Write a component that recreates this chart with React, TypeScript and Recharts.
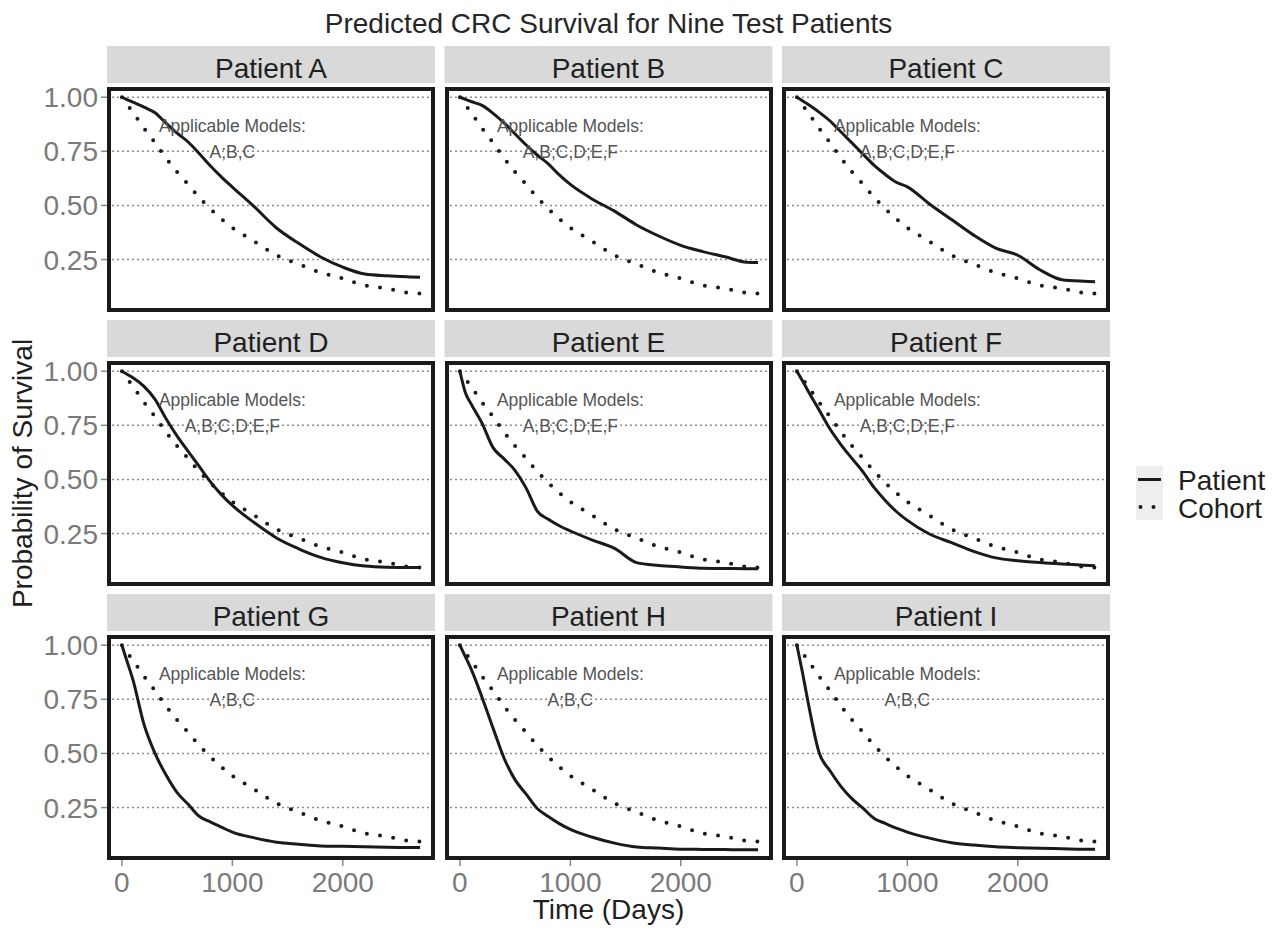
import { LineChart, Line, XAxis, YAxis, ReferenceLine, ReferenceDot } from "recharts"

const FONT = '"Liberation Sans", Arial, Helvetica, sans-serif'

// time grid (days) shared by every curve
const days = [0, 50, 100, 200, 300, 400, 500, 600, 700, 800, 900, 1000, 1200, 1400, 1600, 1800, 2000, 2200, 2400, 2600, 2700]

// cohort survival, same in every panel
const cohort = [1.0, 0.965, 0.93, 0.857, 0.79, 0.718, 0.654, 0.597, 0.537, 0.485, 0.438, 0.397, 0.334, 0.27, 0.229, 0.19, 0.163, 0.131, 0.117, 0.096, 0.093]

const patientA = [1.0, 0.988, 0.977, 0.954, 0.928, 0.88, 0.834, 0.793, 0.74, 0.683, 0.632, 0.585, 0.493, 0.396, 0.325, 0.262, 0.215, 0.183, 0.175, 0.17, 0.168]
const patientB = [1.0, 0.99, 0.98, 0.962, 0.925, 0.881, 0.83, 0.779, 0.733, 0.692, 0.641, 0.597, 0.529, 0.474, 0.41, 0.359, 0.316, 0.287, 0.263, 0.238, 0.237]
const patientC = [1.0, 0.984, 0.967, 0.931, 0.89, 0.839, 0.788, 0.736, 0.685, 0.643, 0.607, 0.586, 0.507, 0.435, 0.363, 0.303, 0.27, 0.203, 0.157, 0.15, 0.148]
const patientD = [1.0, 0.985, 0.97, 0.93, 0.87, 0.78, 0.70, 0.63, 0.56, 0.49, 0.43, 0.38, 0.30, 0.23, 0.18, 0.14, 0.115, 0.10, 0.095, 0.094, 0.094]
const patientE = [1.0, 0.90, 0.85, 0.76, 0.647, 0.595, 0.541, 0.46, 0.354, 0.316, 0.286, 0.262, 0.22, 0.182, 0.116, 0.103, 0.096, 0.09, 0.089, 0.088, 0.088]
const patientF = [1.0, 0.956, 0.91, 0.822, 0.733, 0.66, 0.596, 0.534, 0.462, 0.403, 0.352, 0.311, 0.248, 0.208, 0.168, 0.138, 0.125, 0.116, 0.11, 0.104, 0.101]
const patientG = [1.0, 0.92, 0.84, 0.634, 0.50, 0.40, 0.319, 0.265, 0.21, 0.184, 0.16, 0.137, 0.11, 0.09, 0.081, 0.073, 0.071, 0.069, 0.067, 0.066, 0.066]
const patientH = [1.0, 0.946, 0.892, 0.76, 0.617, 0.478, 0.378, 0.312, 0.246, 0.209, 0.176, 0.149, 0.113, 0.086, 0.068, 0.063, 0.058, 0.057, 0.056, 0.055, 0.055]
const patientI = [1.0, 0.875, 0.74, 0.505, 0.42, 0.347, 0.29, 0.246, 0.2, 0.177, 0.155, 0.137, 0.109, 0.088, 0.077, 0.069, 0.065, 0.062, 0.06, 0.058, 0.058]

const panelNames = ["Patient A", "Patient B", "Patient C", "Patient D", "Patient E", "Patient F", "Patient G", "Patient H", "Patient I"]
const panelSeries = [patientA, patientB, patientC, patientD, patientE, patientF, patientG, patientH, patientI]
const panelModels = ["A;B,C", "A,B;C,D;E,F", "A,B;C,D;E,F", "A,B;C,D;E,F", "A,B;C,D;E,F", "A,B;C,D;E,F", "A;B,C", "A;B,C", "A;B,C"]

const yTicks = [0.25, 0.5, 0.75, 1.0]
const xTicks = [0, 1000, 2000]
const legendNames = ["Patient", "Cohort"]

const title = "Predicted CRC Survival for Nine Test Patients"
const xTitle = "Time (Days)"
const yTitle = "Probability of Survival"
const noteTitle = "Applicable Models:"

// layout
const PW = 328
const PH = 225
const colLeft = [107, 444.5, 782]
const rowTop = [87, 361, 635]
const YW = 80
const XH = 40
const xDomain = [-135, 2835]
const yDomain = [0.008, 1.047]

function Note(props: any) {
 const vb = props.viewBox || { x: 0, y: 0, width: 0, height: 0 }
 const cx = vb.x + (vb.width || 0) / 2
 const cy = vb.y + (vb.height || 0) / 2
 return (
  <text textAnchor="middle" fontSize={17.5} fill="#555" fontFamily={FONT}>
   <tspan x={cx} y={cy - 8.5}>{noteTitle}</tspan>
   <tspan x={cx} y={cy + 17.5}>{props.models}</tspan>
  </text>
 )
}

function Panel({ idx }: { idx: number }) {
 const col = idx % 3
 const row = Math.floor(idx / 3)
 const yw = col === 0 ? YW : 0
 const xh = row === 2 ? XH : 0
 const series = panelSeries[idx]
 const rows = days.map((t, i) => ({ t, patient: series[i], cohort: cohort[i] }))
 const tickStyle = { fontSize: 28, fill: "#7a7a7a", fontFamily: FONT }

 return (
  <div style={{ position: "absolute", left: colLeft[col] - yw, top: rowTop[row], width: PW + yw, height: PH + xh }}>
   <LineChart width={PW + yw} height={PH + xh} data={rows} margin={{ top: 0, right: 0, bottom: 0, left: 0 }}>
    <XAxis
     dataKey="t"
     type="number"
     domain={xDomain}
     ticks={xTicks}
     allowDataOverflow
     hide={row !== 2}
     height={XH}
     axisLine={false}
     tickLine={{ stroke: "#8a8a8a", strokeWidth: 1.5 }}
     tickSize={6}
     tickMargin={6}
     tick={tickStyle}
     interval={0}
    />
    <YAxis
     type="number"
     domain={yDomain}
     ticks={yTicks}
     allowDataOverflow
     hide={col !== 0}
     width={YW}
     axisLine={false}
     tickLine={{ stroke: "#8a8a8a", strokeWidth: 1.5 }}
     tickSize={6}
     tickMargin={3}
     tick={tickStyle}
     tickFormatter={(v: number) => v.toFixed(2)}
     interval={0}
    />
    {yTicks.map(v => (
     <ReferenceLine key={v} y={v} stroke="#8c8c8c" strokeWidth={1.5} strokeDasharray="2 3" />
    ))}
    <Line
     dataKey="cohort"
     type="monotone"
     stroke="#1a1a1a"
     strokeWidth={4}
     strokeDasharray="0 13.3"
     strokeLinecap="round"
     dot={false}
     activeDot={false}
     isAnimationActive={false}
    />
    <Line
     dataKey="patient"
     type="monotone"
     stroke="#1a1a1a"
     strokeWidth={3}
     dot={false}
     activeDot={false}
     isAnimationActive={false}
    />
    <ReferenceDot x={1000} y={0.8} r={1} fill="none" stroke="none" label={<Note models={panelModels[idx]} />} />
   </LineChart>
   <div
    style={{
     position: "absolute",
     left: yw,
     top: 0,
     width: PW,
     height: PH,
     border: "4px solid #1a1a1a",
     boxSizing: "border-box",
     pointerEvents: "none"
    }}
   />
  </div>
 )
}

export default function App() {
 const midX = (colLeft[0] + colLeft[2] + PW) / 2
 const midY = (rowTop[0] + rowTop[2] + PH) / 2

 return (
  <div style={{ position: "absolute", left: 0, top: 0, width: 1277, height: 928, background: "#fff", fontFamily: FONT }}>
   <svg width={1277} height={928} style={{ position: "absolute", left: 0, top: 0 }} fontFamily={FONT}>
    <text x={midX} y={33} textAnchor="middle" fontSize={28} fill="#262626">{title}</text>

    {panelNames.map((name, i) => {
     const col = i % 3
     const row = Math.floor(i / 3)
     return (
      <g key={name}>
       <rect x={colLeft[col]} y={rowTop[row] - 41} width={PW} height={37} fill="#d9d9d9" />
       <text x={colLeft[col] + PW / 2} y={rowTop[row] - 9.5} textAnchor="middle" fontSize={28} fill="#1f1f1f">{name}</text>
      </g>
     )
    })}

    <text x={midX} y={919} textAnchor="middle" fontSize={28} fill="#1f1f1f">{xTitle}</text>
    <text transform={`translate(31.5, ${midY}) rotate(-90)`} textAnchor="middle" fontSize={28} fill="#1f1f1f">{yTitle}</text>

    <rect x={1136} y={466} width={27} height={54} fill="#eeeeee" />
    {legendNames.map((name, i) => (
     <g key={name}>
      {i === 0 ? (
       <line x1={1138} x2={1161} y1={479.5} y2={479.5} stroke="#1a1a1a" strokeWidth={3} />
      ) : (
       <line x1={1140.5} x2={1155} y1={507} y2={507} stroke="#1a1a1a" strokeWidth={4} strokeDasharray="0 13" strokeLinecap="round" />
      )}
      <text x={1178} y={490 + i * 28} fontSize={28} fill="#1f1f1f">{name}</text>
     </g>
    ))}
   </svg>
   {panelNames.map((name, i) => <Panel key={name} idx={i} />)}
  </div>
 )
}
